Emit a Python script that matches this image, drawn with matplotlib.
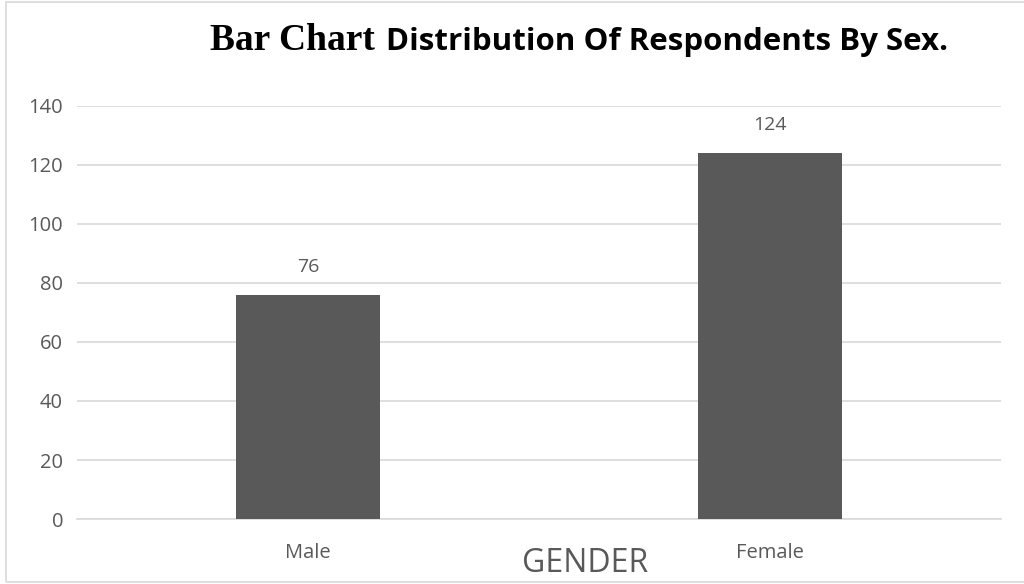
import matplotlib.pyplot as plt
from matplotlib.patches import Rectangle

categories = ['Male', 'Female']
counts = [76, 124]
yticks = [0, 20, 40, 60, 80, 100, 120, 140]

bar_color = '#595959'
text_color = '#595959'
grid_color = '#d9d9d9'

fig = plt.figure(figsize=(10.24, 5.84), dpi=100)
ax = fig.add_axes([0.0752, 0.1113, 0.9023, 0.7072])

x = list(range(len(categories)))
ax.bar(x, counts, width=0.31, color=bar_color, zorder=3)
for xi, v in zip(x, counts):
    ax.annotate(str(v), (xi, v), xytext=(0, 20), textcoords='offset points',
                ha='center', va='center', fontsize=14, color=text_color,
                family='Open Sans')

ax.set_xlim(-0.5, 1.5)
ax.set_ylim(0, 140)
ax.set_yticks(yticks)
ax.set_yticklabels([str(t) for t in yticks], fontsize=14.5, color=text_color,
                   family='Open Sans')
ax.set_xticks(x)
ax.set_xticklabels(categories, fontsize=14.5, color=text_color, family='Open Sans')
ax.tick_params(axis='y', length=0, pad=10)
ax.tick_params(axis='x', length=0, pad=17)
ax.grid(axis='y', color=grid_color, linewidth=1.2, zorder=0)
for s in ['top', 'right', 'left']:
    ax.spines[s].set_visible(False)
ax.spines['bottom'].set_color(grid_color)
ax.spines['bottom'].set_linewidth(1.2)

fig.text(585 / 1024, 1 - 563 / 584, 'GENDER', ha='center', va='center',
         fontsize=23, color=text_color, family='Open Sans')

# title: first part serif, rest sans
fig.text(210 / 1024, 1 - 50 / 584, 'Bar Chart', ha='left', va='baseline',
         fontsize=27, fontweight='bold', family='Liberation Serif', color='black')
fig.text(386 / 1024, 1 - 50 / 584, 'Distribution Of Respondents By Sex.',
         ha='left', va='baseline', fontsize=22.5, fontweight='bold',
         family='Open Sans', color='black')

fig.patches.append(Rectangle((6 / 1024, 2 / 584), 1.0, 580 / 584,
                             transform=fig.transFigure, fill=False,
                             edgecolor=grid_color, linewidth=1.2))

fig.savefig('out.png', dpi=100)
